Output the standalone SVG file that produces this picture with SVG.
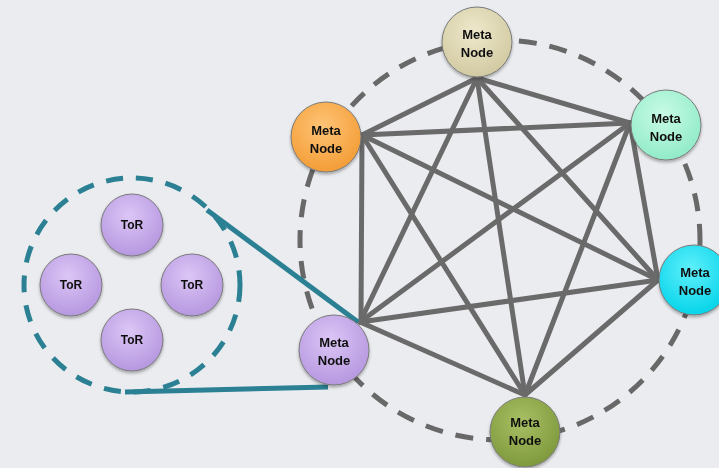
<svg xmlns="http://www.w3.org/2000/svg" width="719" height="468" viewBox="0 0 719 468">
<defs>
<style>
.edge{stroke:#6a6a6a;stroke-width:5;stroke-linecap:round}
.ring{fill:none;stroke:#686868;stroke-width:5;stroke-dasharray:18 13}
.teal{stroke:#2b8093;stroke-width:5;fill:none}
.tealring{fill:none;stroke:#2b8093;stroke-width:5;stroke-dasharray:17 13}
.nd{stroke:#7a7a7a;stroke-width:1}
.lbl{font-family:"Liberation Sans",Arial,sans-serif;font-weight:bold;font-size:13px;fill:#111;text-anchor:middle}
.tor{font-family:"Liberation Sans",Arial,sans-serif;font-weight:bold;font-size:12px;fill:#111;text-anchor:middle}
</style>
<radialGradient id="gBeige" cx="0.45" cy="0.35" r="0.7"><stop offset="0" stop-color="#efe9cc"/><stop offset="1" stop-color="#cfc79e"/></radialGradient>
<radialGradient id="gOrange" cx="0.45" cy="0.35" r="0.7"><stop offset="0" stop-color="#ffc476"/><stop offset="1" stop-color="#f29a32"/></radialGradient>
<radialGradient id="gMint" cx="0.45" cy="0.35" r="0.7"><stop offset="0" stop-color="#c8fbe6"/><stop offset="1" stop-color="#8deac6"/></radialGradient>
<radialGradient id="gCyan" cx="0.45" cy="0.35" r="0.7"><stop offset="0" stop-color="#5ff0fb"/><stop offset="1" stop-color="#00d2e8"/></radialGradient>
<radialGradient id="gGreen" cx="0.45" cy="0.35" r="0.7"><stop offset="0" stop-color="#a9c064"/><stop offset="1" stop-color="#7b963a"/></radialGradient>
<radialGradient id="gPurple" cx="0.45" cy="0.35" r="0.7"><stop offset="0" stop-color="#dcc6f6"/><stop offset="1" stop-color="#b394de"/></radialGradient>
<filter id="sh" x="-30%" y="-30%" width="160%" height="170%"><feDropShadow dx="0" dy="2" stdDeviation="1.5" flood-color="#000" flood-opacity="0.3"/></filter>
</defs>
<rect width="719" height="468" fill="#eaecef"/>
<circle class="ring" cx="500" cy="240" r="200"/>
<g id="connectors">
<line class="edge" x1="477" y1="78" x2="362" y2="135"/>
<line class="edge" x1="477" y1="78" x2="630" y2="123"/>
<line class="edge" x1="477" y1="78" x2="658" y2="280"/>
<line class="edge" x1="477" y1="78" x2="525" y2="395"/>
<line class="edge" x1="477" y1="78" x2="360" y2="322"/>
<line class="edge" x1="362" y1="135" x2="630" y2="123"/>
<line class="edge" x1="362" y1="135" x2="658" y2="280"/>
<line class="edge" x1="362" y1="135" x2="525" y2="395"/>
<line class="edge" x1="362" y1="135" x2="361" y2="322"/>
<line class="edge" x1="630" y1="123" x2="658" y2="280"/>
<line class="edge" x1="630" y1="123" x2="525" y2="395"/>
<line class="edge" x1="630" y1="123" x2="360" y2="322"/>
<line class="edge" x1="658" y1="280" x2="525" y2="395"/>
<line class="edge" x1="658" y1="280" x2="360" y2="322"/>
<line class="edge" x1="525" y1="395" x2="360" y2="322"/>
<line class="teal" x1="207" y1="210" x2="358" y2="322"/>
<line class="teal" x1="125" y1="392" x2="328" y2="387"/>
</g>
<ellipse class="tealring" cx="132" cy="285" rx="108" ry="107"/>
<g id="meta-top" filter="url(#sh)"><circle class="nd" cx="477" cy="42" r="35" fill="url(#gBeige)"/><text class="lbl" x="477" y="39">Meta</text><text class="lbl" x="477" y="57">Node</text></g>
<g id="meta-orange" filter="url(#sh)"><circle class="nd" cx="326" cy="137" r="35" fill="url(#gOrange)"/><text class="lbl" x="326" y="135">Meta</text><text class="lbl" x="326" y="153">Node</text></g>
<g id="meta-mint" filter="url(#sh)"><circle class="nd" cx="666" cy="125" r="35" fill="url(#gMint)"/><text class="lbl" x="666" y="123">Meta</text><text class="lbl" x="666" y="141">Node</text></g>
<g id="meta-cyan" filter="url(#sh)"><circle class="nd" cx="694" cy="280" r="35" fill="url(#gCyan)"/><text class="lbl" x="695" y="277">Meta</text><text class="lbl" x="695" y="295">Node</text></g>
<g id="meta-green" filter="url(#sh)"><circle class="nd" cx="525" cy="432" r="35" fill="url(#gGreen)"/><text class="lbl" x="525" y="427">Meta</text><text class="lbl" x="525" y="445">Node</text></g>
<g id="meta-purple" filter="url(#sh)"><circle class="nd" cx="334" cy="350" r="35" fill="url(#gPurple)"/><text class="lbl" x="334" y="347">Meta</text><text class="lbl" x="334" y="365">Node</text></g>
<g id="tor-top" filter="url(#sh)"><circle class="nd" cx="132" cy="225" r="31" fill="url(#gPurple)"/><text class="tor" x="132" y="229">ToR</text></g>
<g id="tor-left" filter="url(#sh)"><circle class="nd" cx="71" cy="285" r="31" fill="url(#gPurple)"/><text class="tor" x="71" y="289">ToR</text></g>
<g id="tor-right" filter="url(#sh)"><circle class="nd" cx="192" cy="285" r="31" fill="url(#gPurple)"/><text class="tor" x="192" y="289">ToR</text></g>
<g id="tor-bottom" filter="url(#sh)"><circle class="nd" cx="132" cy="340" r="31" fill="url(#gPurple)"/><text class="tor" x="132" y="344">ToR</text></g>
</svg>
